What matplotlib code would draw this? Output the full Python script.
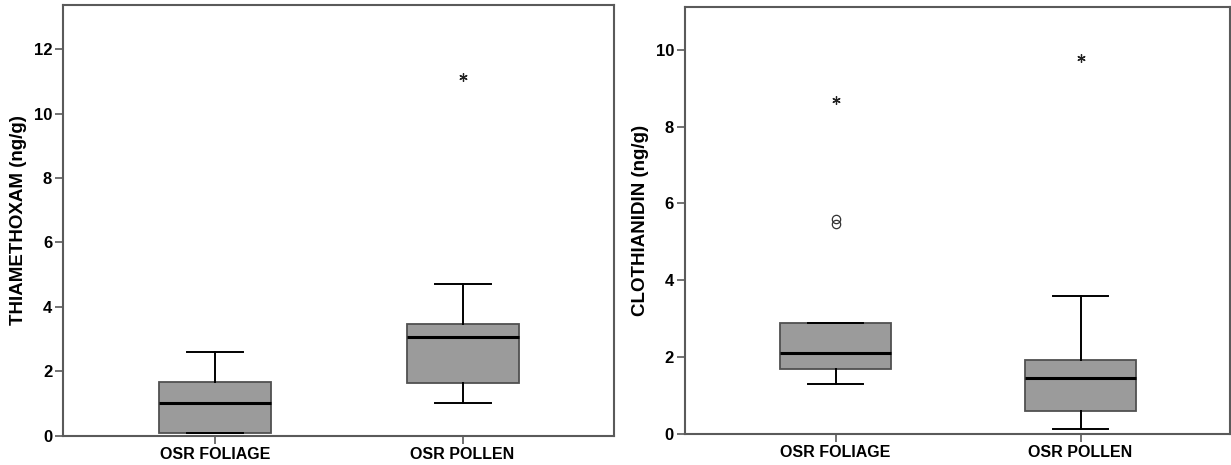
import matplotlib.pyplot as plt

plt.rcParams['font.family'] = ['Liberation Sans', 'DejaVu Sans']

# Data
groups = ["OSR FOLIAGE", "OSR POLLEN"]

# Thiamethoxam (ng/g): whislo, q1, med, q3, whishi
thx_whislo = [0.07, 1.02]
thx_q1 = [0.09, 1.64]
thx_med = [1.00, 3.07]
thx_q3 = [1.65, 3.47]
thx_whishi = [2.60, 4.71]
thx_circles = [[], []]
thx_stars = [[], [11.13]]

# Clothianidin (ng/g)
clo_whislo = [1.28, 0.11]
clo_q1 = [1.69, 0.59]
clo_med = [2.09, 1.44]
clo_q3 = [2.89, 1.91]
clo_whishi = [2.89, 3.59]
clo_circles = [[5.47, 5.60], []]
clo_stars = [[8.70], [9.79]]

box_col = "#9b9b9b"
edge_col = "#505050"
spine_col = "#5a5a5a"


def draw_panel(ax, whislo, q1, med, q3, whishi, circles, stars, ylabel, ylim, yticks):
    stats = []
    for i in range(len(groups)):
        stats.append(dict(whislo=whislo[i], q1=q1[i], med=med[i],
                          q3=q3[i], whishi=whishi[i], fliers=[]))
    ax.bxp(stats, positions=range(len(groups)), widths=0.452,
           patch_artist=True, showfliers=False,
           boxprops=dict(facecolor=box_col, edgecolor=edge_col, linewidth=1.3),
           medianprops=dict(color="black", linewidth=2.2),
           whiskerprops=dict(color="black", linewidth=1.4),
           capprops=dict(color="black", linewidth=1.4),
           capwidths=0.226)
    for i in range(len(groups)):
        if circles[i]:
            ax.plot([i] * len(circles[i]), circles[i], linestyle="none",
                    marker="o", markersize=6, markerfacecolor="none",
                    markeredgecolor="#333333", markeredgewidth=0.9)
        if stars[i]:
            ax.plot([i] * len(stars[i]), stars[i], linestyle="none",
                    marker=(6, 2, 0), markersize=6, color="#222222",
                    markeredgewidth=0.9)
    ax.set_xlim(-0.614, 1.61)
    ax.set_ylim(*ylim)
    ax.set_yticks(yticks)
    ax.set_xticks(range(len(groups)))
    ax.set_xticklabels(groups)
    ax.set_ylabel(ylabel, fontsize=13.5, fontweight="bold", labelpad=5)
    ax.tick_params(axis="both", direction="out", length=6, width=1.2,
                   color=spine_col, labelsize=12, pad=2)
    ax.tick_params(axis="x", labelsize=11.5)
    for lab in ax.get_xticklabels() + ax.get_yticklabels():
        lab.set_fontweight("bold")
    for sp in ax.spines.values():
        sp.set_color(spine_col)
        sp.set_linewidth(1.5)


fig = plt.figure(figsize=(12.31, 4.65), dpi=100)
ax1 = fig.add_axes([0.0514, 0.0634, 0.4470, 0.9265])
ax2 = fig.add_axes([0.5565, 0.0677, 0.4427, 0.9173])

draw_panel(ax1, thx_whislo, thx_q1, thx_med, thx_q3, thx_whishi,
           thx_circles, thx_stars, "THIAMETHOXAM (ng/g)",
           (0, 13.38), [0, 2, 4, 6, 8, 10, 12])
draw_panel(ax2, clo_whislo, clo_q1, clo_med, clo_q3, clo_whishi,
           clo_circles, clo_stars, "CLOTHIANIDIN (ng/g)",
           (0, 11.12), [0, 2, 4, 6, 8, 10])

fig.savefig("out.png", dpi=100)
